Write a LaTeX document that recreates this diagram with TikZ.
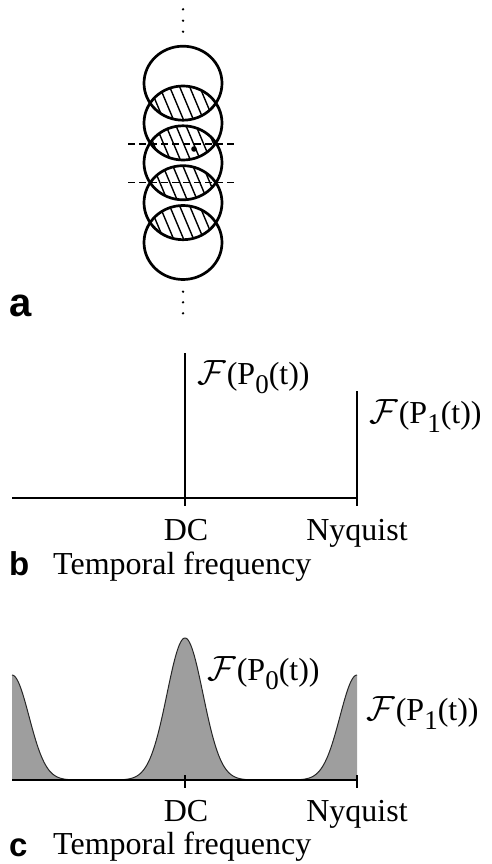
\documentclass[tikz,border=0pt]{standalone}
\usepackage{fix-cm}
\usepackage{fontspec}
\setmainfont{Liberation Serif}
\newfontfamily\labfont{Liberation Sans}
\newcommand{\FP}[1]{{\fontsize{35}{36}\selectfont$\mathcal{F}$}\kern1pt(P\raisebox{-0.3em}{\fontsize{27}{27}\selectfont #1}(t))}
\begin{document}
\begin{tikzpicture}[x=1pt,y=-1pt,
  circ/.style={line width=2.7pt},
  hatchline/.style={line width=1.4pt},
  axisline/.style={line width=2pt},
  peakfill/.style={fill=black!38},
  peakline/.style={line width=1pt,black!85},
  dashline/.style={line width=1.8pt,dash pattern=on 7pt off 4pt},
  txt/.style={inner sep=0pt,font=\fontsize{32}{36}\selectfont},
  lab/.style={inner sep=0pt,font=\labfont\bfseries\fontsize{33}{36}\selectfont}]
\useasboundingbox (0,0) rectangle (491,864);
% ---------- panel a ----------
\foreach \a/\b in {83.2/123,123/162.8,162.8/202.7,202.7/242.5}{
  \begin{scope}
    \clip (183,\a) ellipse [x radius=39pt, y radius=37pt];
    \clip (183,\b) ellipse [x radius=39pt, y radius=37pt];
    \foreach \k in {-8,...,13} \draw[hatchline] (100+10*\k,40) -- ++(105,250);
  \end{scope}}
\foreach \c [count=\i] in {83.2,123,162.8,202.7,242.5}
  \draw[circ] (183,\c) coordinate (c\i) ellipse [x radius=39pt, y radius=37pt];
\coordinate (dl1) at (128,144); \coordinate (dr1) at (237,144);
\coordinate (dl2) at (128,182.5); \coordinate (dr2) at (237,182.5);
\draw[dashline] (dl1) -- (dr1);
\draw[dashline] (dl2) -- (dr2);
\fill (194,149) coordinate (pt) circle [radius=2.8pt];
\foreach \y in {9.3,20.7,31.7,291.7,302.3,313.3} \fill (183,\y) circle [radius=1.3pt];
\node[lab,anchor=base west,font=\labfont\bfseries\fontsize{40}{40}\selectfont] (la) at (9,316) {a};
% ---------- panel b ----------
\coordinate (bL) at (12,498);
\coordinate (bDC) at (185,498);
\coordinate (bNy) at (357,498);
\coordinate (bDCt) at (185,353);
\coordinate (bNyt) at (357,391);
\draw[axisline] (bL) -- (bNy);
\draw[axisline] (bDCt) -- ([yshift=-8pt]bDC);
\draw[axisline] (bNyt) -- ([yshift=-8pt]bNy);
\node[txt,anchor=base west] (bF0) at (197,384) {\FP{0}};
\node[txt,anchor=base west] (bF1) at (369,423) {\FP{1}};
\node[txt,anchor=base] (bdc) at (186,540) {DC};
\node[txt,anchor=base] (bny) at (357,540) {Nyquist};
\node[lab,anchor=base west] (lb) at (9,575) {b};
\node[txt,anchor=base west] (btf) at (53,574) {Temporal frequency};
% ---------- panel c ----------
\fill[peakfill] (12,780) -- plot[domain=12:85,samples=60] (\x,{780-105*exp(-0.5*((\x-12)/17)^2)}) -- cycle;
\fill[peakfill] plot[domain=110:260,samples=120] (\x,{780-142*exp(-0.5*((\x-185)/18)^2)}) -- cycle;
\fill[peakfill] plot[domain=285:357,samples=60] (\x,{780-105*exp(-0.5*((\x-357)/17)^2)}) -- (357,780) -- cycle;
\draw[peakline] plot[domain=12:85,samples=60] (\x,{780-105*exp(-0.5*((\x-12)/17)^2)});
\draw[peakline] plot[domain=110:260,samples=120] (\x,{780-142*exp(-0.5*((\x-185)/18)^2)});
\draw[peakline] plot[domain=285:357,samples=60] (\x,{780-105*exp(-0.5*((\x-357)/17)^2)});
\coordinate (cL) at (12,780);
\coordinate (cDC) at (185,780);
\coordinate (cNy) at (357,780);
\draw[axisline] (cL) -- (cNy);
\draw[axisline] ([yshift=5pt]cDC) -- ([yshift=-8pt]cDC);
\draw[axisline] ([yshift=5pt]cNy) -- ([yshift=-8pt]cNy);
\node[txt,anchor=base west] (cF0) at (207,680) {\FP{0}};
\node[txt,anchor=base west] (cF1) at (366,720) {\FP{1}};
\node[txt,anchor=base] (cdc) at (186,821) {DC};
\node[txt,anchor=base] (cny) at (357,821) {Nyquist};
\node[lab,anchor=base west] (lc) at (9,856) {c};
\node[txt,anchor=base west] (ctf) at (53,854) {Temporal frequency};
\end{tikzpicture}
\end{document}
